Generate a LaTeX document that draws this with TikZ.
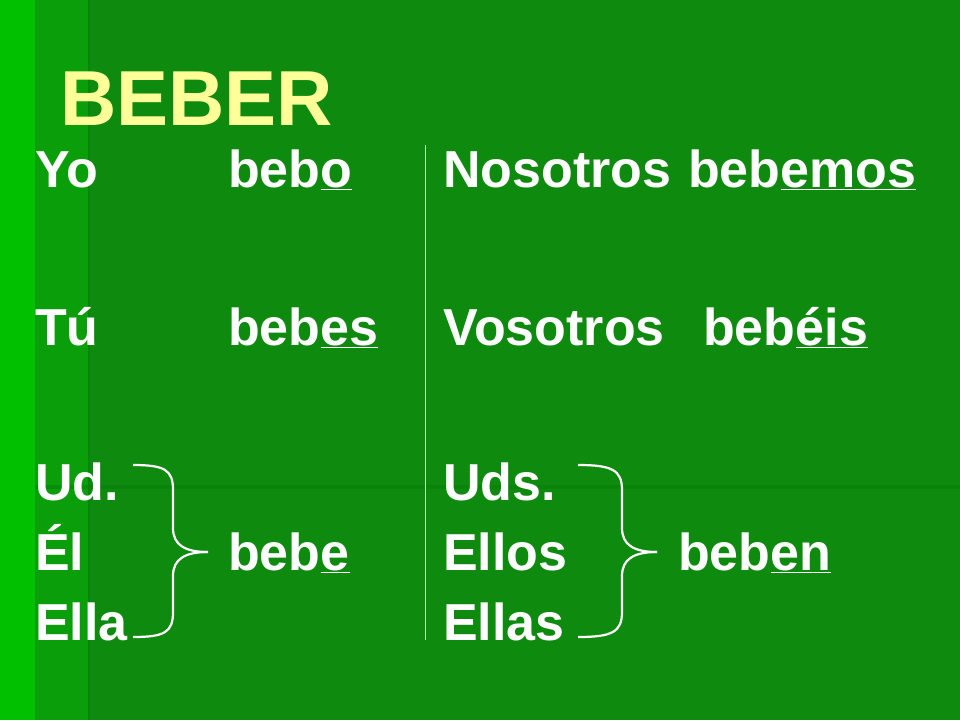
\documentclass[tikz,border=0pt]{standalone}
\usepackage{fontspec}
\setmainfont{Liberation Sans}
\definecolor{bgdark}{HTML}{0E8A0E}
\definecolor{bgmid}{HTML}{0A9E0A}
\definecolor{bglight}{HTML}{00C000}
\definecolor{titlecol}{HTML}{FFFF99}
\newcommand{\uend}[1]{\underline{#1}}
\tikzset{
  word/.style={anchor=base west, inner sep=0pt, text=white, font=\fontsize{52}{52}\selectfont\bfseries},
  brace/.style={draw=white, line width=2.2pt},
}
\begin{document}
\begin{tikzpicture}[x=1pt, y=-1pt]
  \useasboundingbox (0,0) rectangle (960,720);
  % background
  \fill[bgdark] (0,0) rectangle (960,720);
  \fill[bglight] (0,0) rectangle (35,720);
  \fill[bgmid] (35,0) rectangle (88,720);
  \fill[bgmid!80!black, opacity=0.5] (88,0) rectangle (90,720);
  \fill[bgmid!80!black, opacity=0.5] (35,485) rectangle (960,489);
  % title
  \node[anchor=base west, inner sep=0pt, text=titlecol, font=\fontsize{78}{78}\selectfont\bfseries] (title) at (60,125) {BEBER};
  % divider
  \draw[white!70!green, line width=0.6pt] (425,145) -- (425,640);
  % left column
  \node[word] (yo) at (35,187) {Yo};
  \node[word] (bebo) at (228,187) {beb\uend{o}};
  \node[word] (tu) at (35,345) {Tú};
  \node[word] (bebes) at (228,345) {beb\uend{es}};
  \node[word] (ud) at (35,500) {Ud.};
  \node[word] (el) at (35,570) {Él};
  \node[word] (bebe) at (228,570) {beb\uend{e}};
  \node[word] (ella) at (35,640) {Ella};
  % right column
  \node[word] (nos) at (443,187) {Nosotros};
  \node[word] (bebemos) at (688,187) {beb\uend{emos}};
  \node[word] (vos) at (443,345) {Vosotros};
  \node[word] (bebeis) at (703,345) {beb\uend{éis}};
  \node[word] (uds) at (443,500) {Uds.};
  \node[word] (ellos) at (443,570) {Ellos};
  \node[word] (beben) at (678,570) {beb\uend{en}};
  \node[word] (ellas) at (443,640) {Ellas};
  % braces
  \draw[brace] (133,465) .. controls (165,465) and (173,470) .. (173,490)
    -- (173,528) .. controls (173,545) and (185,552) .. (208,552);
  \draw[brace] (133,637) .. controls (165,637) and (173,632) .. (173,612)
    -- (173,576) .. controls (173,559) and (185,552) .. (208,552);
  \draw[brace] (578,465) .. controls (612,465) and (622,470) .. (622,490)
    -- (622,528) .. controls (622,545) and (634,552) .. (657,552);
  \draw[brace] (578,637) .. controls (612,637) and (622,632) .. (622,612)
    -- (622,576) .. controls (622,559) and (634,552) .. (657,552);
\end{tikzpicture}
\end{document}
